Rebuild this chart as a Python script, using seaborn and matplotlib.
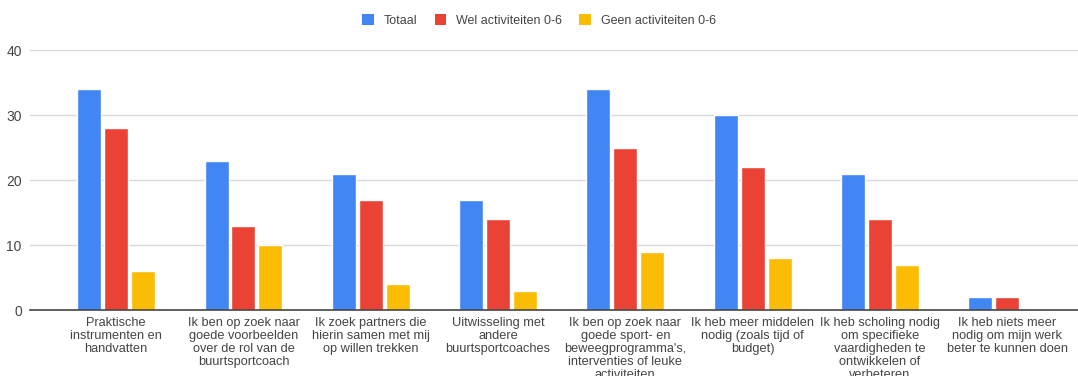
import matplotlib
matplotlib.use("Agg")
import matplotlib.pyplot as plt
import seaborn as sns
import pandas as pd
from matplotlib.patches import Patch

categories = [
    "Praktische\ninstrumenten en\nhandvatten",
    "Ik ben op zoek naar\ngoede voorbeelden\nover de rol van de\nbuurtsportcoach",
    "Ik zoek partners die\nhierin samen met mij\nop willen trekken",
    "Uitwisseling met\nandere\nbuurtsportcoaches",
    "Ik ben op zoek naar\ngoede sport- en\nbeweegprogramma's,\ninterventies of leuke\nactiviteiten",
    "Ik heb meer middelen\nnodig (zoals tijd of\nbudget)",
    "Ik heb scholing nodig\nom specifieke\nvaardigheden te\nontwikkelen of\nverbeteren",
    "Ik heb niets meer\nnodig om mijn werk\nbeter te kunnen doen",
]
series_names = ["Totaal", "Wel activiteiten 0-6", "Geen activiteiten 0-6"]
totaal = [34, 23, 21, 17, 34, 30, 21, 2]
wel = [28, 13, 17, 14, 25, 22, 14, 2]
geen = [6, 10, 4, 3, 9, 8, 7, 0]
colors = ["#4285F4", "#EA4335", "#FBBC04"]

rows = []
for name, vals in zip(series_names, [totaal, wel, geen]):
    for cat, v in zip(categories, vals):
        rows.append({"categorie": cat, "reeks": name, "aantal": v})
df = pd.DataFrame(rows)

sns.set_theme(style="white")
plt.rcParams["font.family"] = ["Liberation Sans", "DejaVu Sans"]

fig = plt.figure(figsize=(10.78, 3.76), dpi=100)
ax = fig.add_axes([0.028, 0.1755, 0.972, 0.6915])

sns.barplot(data=df, x="categorie", y="aantal", hue="reeks", order=categories,
            hue_order=series_names, palette=colors, width=0.636, gap=0.11,
            saturation=1, ax=ax, legend=False, errorbar=None)

ax.set_ylim(0, 40)
ax.set_xlim(-0.676, 7.557)
ax.set_yticks([0, 10, 20, 30, 40])
ax.yaxis.grid(True, color="#D9D9D9", linewidth=1)
ax.set_axisbelow(True)
for s in ["top", "right", "left"]:
    ax.spines[s].set_visible(False)
ax.spines["bottom"].set_color("#444444")
ax.spines["bottom"].set_linewidth(1.2)
ax.set_xlabel("")
ax.set_ylabel("")
ax.tick_params(axis="both", length=0, colors="#444444")
ax.tick_params(axis="y", pad=6, labelsize=10)
ax.tick_params(axis="x", pad=5, labelsize=9.2)
for lbl in ax.get_xticklabels():
    lbl.set_linespacing(1.1)
    lbl.set_ha("center")

handles = [Patch(facecolor=c, edgecolor="none") for c in colors]
fig.legend(handles, series_names, loc="center", bbox_to_anchor=(0.5, 0.945),
           ncol=3, frameon=False, fontsize=9, handlelength=0.9, handleheight=0.9,
           columnspacing=1.4, handletextpad=0.8, labelcolor="#444444")

fig.savefig("out.png", dpi=100)
